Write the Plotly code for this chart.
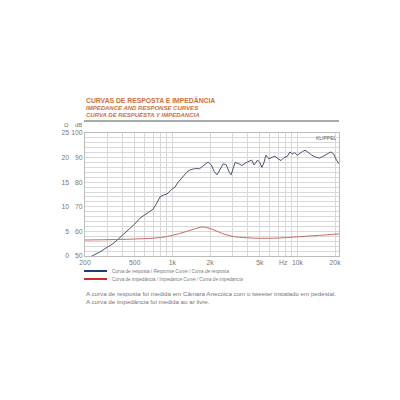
import math
import plotly.graph_objects as go

# ---------------- data ----------------
resp_freq = [200, 225, 260, 300, 335, 380, 442, 500, 551, 600, 638, 700, 750, 796, 850, 906, 980,
             1050, 1100, 1200, 1300, 1384, 1500, 1650, 1800, 1928, 2050, 2150, 2275, 2400, 2550,
             2700, 2850, 2950, 3170, 3400, 3600, 3900, 4100, 4300, 4500, 4800, 5000, 5200, 5400,
             5600, 5900, 6200, 6600, 7000, 7400, 7800, 8300, 8700, 9100, 9500, 10000, 11000,
             11500, 12300, 13000, 14000, 15000, 16000, 17500, 18500, 19500, 20500, 21500]
resp_db = [48.5, 49.8, 51.5, 53.5, 55.0, 57.5, 60.5, 63.0, 65.4, 66.8, 67.5, 69.0, 71.5, 74.0, 74.8,
           75.2, 77.0, 78.0, 79.7, 82.0, 84.0, 85.0, 85.5, 85.5, 87.0, 88.2, 87.0, 84.5, 83.0, 85.0,
           87.5, 87.0, 84.0, 83.0, 88.0, 87.5, 86.8, 88.0, 88.5, 89.0, 87.0, 89.0, 88.0, 86.0, 88.0,
           91.0, 89.5, 90.0, 90.6, 89.5, 88.8, 90.0, 90.5, 92.3, 91.5, 92.0, 91.0, 92.5, 93.0, 92.0,
           91.0, 90.2, 89.8, 90.5, 91.5, 92.3, 91.5, 89.0, 87.5]

imp_freq = [200, 500, 800, 1000, 1300, 1600, 1750, 2000, 2500, 3000, 4000, 5000, 7000, 10000, 15000, 21500]
imp_ohm = [3.25, 3.45, 3.75, 4.2, 5.0, 5.7, 5.9, 5.6, 4.6, 4.0, 3.7, 3.6, 3.65, 3.9, 4.2, 4.5]

grid_freqs = [200, 300, 400, 500, 600, 700, 800, 900, 1000, 2000, 3000, 4000, 5000, 6000, 7000,
              8000, 9000, 10000, 20000]
freq_labels = {200: "200", 500: "500", 1000: "1k", 2000: "2k", 5000: "5k", 10000: "10k", 20000: "20k"}
db_ticks = [50, 60, 70, 80, 90, 100]
ohm_ticks = [0, 5, 10, 15, 20, 25]

# ---------------- layout geometry ----------------
W, H = 400, 400
ML, MR, MT, MB = 55, 61, 133, 144
PW, PH = W - ML - MR, H - MT - MB


def px(x, y):
    return (x - ML) / PW, (H - MB - y) / PH


ORANGE = "#cf6f3a"
GREY = "#777777"
FONT = "Liberation Sans, Arial, sans-serif"

fig = go.Figure()
fig.add_trace(go.Scatter(x=resp_freq, y=resp_db, mode="lines",
                         line=dict(color="#4a5670", width=1), showlegend=False))
fig.add_trace(go.Scatter(x=imp_freq, y=imp_ohm, mode="lines", yaxis="y2",
                         line=dict(color="#c86a66", width=1), line_shape="spline", showlegend=False))

x0 = px(85, 0)[0]
fig.update_layout(
    width=W, height=H, margin=dict(l=ML, r=MR, t=MT, b=MB),
    paper_bgcolor="white", plot_bgcolor="white",
    font=dict(family=FONT, color="#666666", size=7),
    xaxis=dict(type="log", domain=[x0, 1], range=[math.log10(200), math.log10(21500)],
               tickvals=grid_freqs, ticktext=[freq_labels.get(f, "") for f in grid_freqs],
               showgrid=True, gridcolor="#d8d8d8", gridwidth=1, ticks="",
               showline=True, linecolor="#bbbbbb", mirror=True,
               tickfont=dict(size=6.8, color="#777777"), zeroline=False),
    yaxis=dict(range=[50, 100], tickmode="array", tickvals=db_ticks, ticks="",
               showgrid=True, gridcolor="#d8d8d8",
               showline=True, linecolor="#bbbbbb", mirror=True, zeroline=False,
               tickfont=dict(size=6.8, color="#777777"),
               minor=dict(showgrid=True, dtick=2, tick0=50, gridcolor="#d8d8d8", gridwidth=1)),
    yaxis2=dict(range=[0, 25], tickmode="array", tickvals=ohm_ticks, overlaying="y", anchor="free",
                position=px(69, 0)[0], side="left", showgrid=False, showline=False,
                zeroline=False, ticks="", tickfont=dict(size=6.8, color="#777777")),
)

ann = []


def text(x, y, s, size, color=GREY, bold=False, italic=False, xanchor="left"):
    xp, yp = px(x, y)
    if bold:
        s = "<b>" + s + "</b>"
    if italic:
        s = "<i>" + s + "</i>"
    ann.append(dict(x=xp, y=yp, xref="paper", yref="paper", text=s, showarrow=False,
                    xanchor=xanchor, yanchor="middle", font=dict(size=size, color=color, family=FONT)))


text(84, 100, "CURVAS DE RESPOSTA E IMPEDÂNCIA", 6.8, ORANGE, bold=True)
text(84, 108, "IMPEDANCE AND RESPONSE CURVES", 6, ORANGE, bold=True, italic=True)
text(84, 115, "CURVA DE RESPUESTA Y IMPEDANCIA", 6, ORANGE, bold=True, italic=True)
text(62, 125, "Ω", 6)
text(73, 125, "dB", 6)
text(314, 138, "KLIPPEL", 5, "#666666")
text(283, 262, "Hz", 6.8, "#777777", xanchor="center")
text(110, 271, "Curva de resposta / <i>Response Curve / Curva de resposta</i>", 4.6, GREY)
text(110, 279, "Curva de impedância / <i>Impedance Curve / Curva de impedancia</i>", 4.6, GREY)
text(84, 293, "A curva de resposta foi medida em Câmara Anecóica com o tweeter instalado em pedestal.", 6.2, GREY)
text(84, 301, "A curva de impedância foi medida ao ar livre.", 6.2, GREY)
fig.update_layout(annotations=ann)

shapes = []
a, b = px(84, 121), px(339, 121)
shapes.append(dict(type="line", xref="paper", yref="paper", x0=a[0], y0=a[1], x1=b[0], y1=b[1],
                   line=dict(color="#555555", width=1)))
for yy, col in [(271, "#1f3a7a"), (279, "#d02a2a")]:
    a, b = px(84, yy), px(107, yy)
    shapes.append(dict(type="line", xref="paper", yref="paper", x0=a[0], y0=a[1], x1=b[0], y1=b[1],
                       line=dict(color=col, width=2)))
fig.update_layout(shapes=shapes)

fig.write_html("out.html")
